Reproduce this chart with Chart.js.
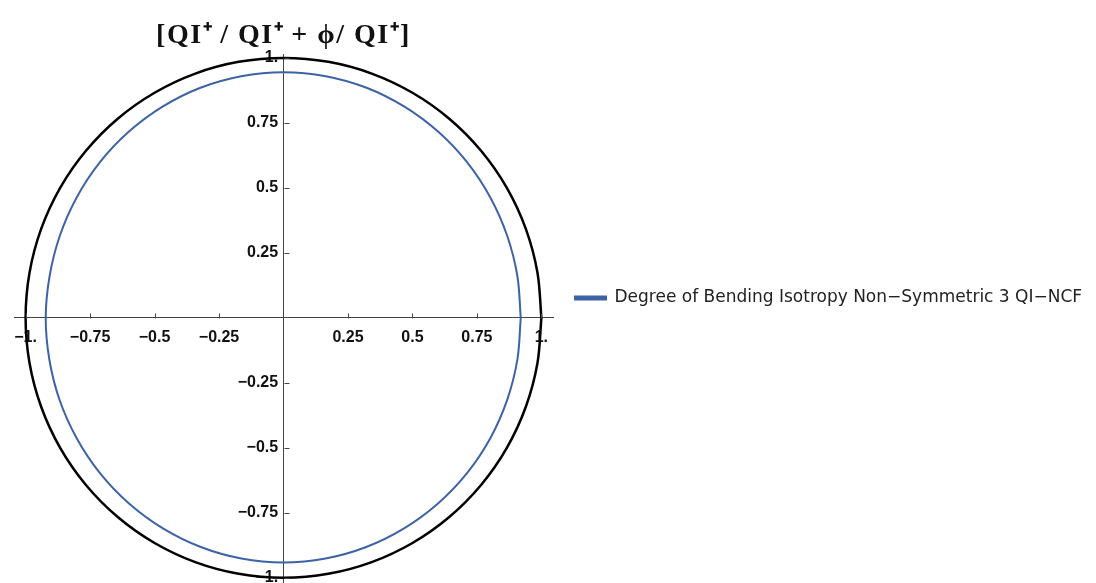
<!DOCTYPE html>
<html>
<head>
<meta charset="utf-8">
<script src="https://cdn.jsdelivr.net/npm/chart.js@4.4.0/dist/chart.umd.min.js"></script>
<style>
  html, body { margin: 0; padding: 0; background: #fff; overflow: hidden; }
  #wrap { width: 1096px; height: 583px; }
</style>
</head>
<body>
<div id="wrap"><canvas id="polarChart"></canvas></div>
<script>
// polar angles in degrees, radii
var angles = [0, 10, 20, 30, 40, 50, 60, 70, 80, 90, 100, 110, 120, 130, 140, 150, 160, 170,
              180, 190, 200, 210, 220, 230, 240, 250, 260, 270, 280, 290, 300, 310, 320, 330, 340, 350, 360];
var bendingRadii = [0.920, 0.921, 0.923, 0.926, 0.930, 0.934, 0.938, 0.942, 0.944, 0.945,
                    0.944, 0.942, 0.938, 0.934, 0.930, 0.926, 0.923, 0.921,
                    0.922, 0.922, 0.924, 0.926, 0.929, 0.932, 0.935, 0.938, 0.940, 0.941,
                    0.940, 0.938, 0.935, 0.932, 0.929, 0.926, 0.923, 0.921, 0.920];
var frameRadius = 1;

var xTicks = [-1, -0.75, -0.5, -0.25, 0.25, 0.5, 0.75, 1];
var xTickLabels = ['\u22121.', '\u22120.75', '\u22120.5', '\u22120.25', '0.25', '0.5', '0.75', '1.'];
var yTicks = [-1, -0.75, -0.5, -0.25, 0.25, 0.5, 0.75, 1];
var yTickLabels = ['\u22121.', '\u22120.75', '\u22120.5', '\u22120.25', '0.25', '0.5', '0.75', '1.'];

var titleText = '[QI\u207A\u2009/ QI\u207A\u2009+ \u03D5/ QI\u207A]';
var seriesLabel = 'Degree of Bending Isotropy Non\u2212Symmetric 3 QI\u2212NCF';

// polar -> cartesian
function toPoints(radii) {
    return angles.map(function(a, i) {
        var r = Array.isArray(radii) ? radii[i] : radii;
        var t = a * Math.PI / 180;
        return { x: r * Math.cos(t), y: r * Math.sin(t) };
    });
}

function labelFor(ticks, labels, suffix) {
    return function(value) {
        var i = ticks.indexOf(Math.round(value * 100) / 100);
        return i >= 0 ? labels[i] + (suffix || '') : '';
    };
}

// center axes shouldn't eat into the plot area
function noSpace(s) {
    if (s.isHorizontal()) s.height = 0; else s.width = 0;
    s.paddingLeft = s.paddingRight = s.paddingTop = s.paddingBottom = 0;
}

// legend gets the whole right side (Chart.js caps it at a quarter otherwise),
// title gets a bit of letter spacing
var LEGEND_WIDTH = 543;
var boxTweaks = {
    id: 'boxTweaks',
    beforeLayout: function(chart) {
        var lg = chart.legend;
        if (lg && !lg._wide) {
            var fit = lg.fit;
            lg.fit = function() {
                fit.call(this);
                this.width = LEGEND_WIDTH;
            };
            lg._wide = true;
        }
        var tb = chart.titleBlock;
        if (tb && !tb._spaced) {
            var draw = tb.draw;
            tb.draw = function() {
                var c = this.ctx;
                var old = c.letterSpacing;
                c.letterSpacing = '1.5px';
                draw.call(this);
                c.letterSpacing = old || '0px';
            };
            tb._spaced = true;
        }
    }
};

// little inward tick marks like Mathematica
var tickMarks = {
    id: 'tickMarks',
    afterDatasetsDraw: function(chart) {
        var ctx = chart.ctx;
        var xs = chart.scales.x, ys = chart.scales.y;
        var x0 = Math.round(xs.getPixelForValue(0)) + 0.5;
        var y0 = Math.round(ys.getPixelForValue(0)) + 0.5;
        ctx.save();
        ctx.strokeStyle = '#444';
        ctx.lineWidth = 1;
        ctx.beginPath();
        xTicks.forEach(function(v) {
            var px = Math.round(xs.getPixelForValue(v)) + 0.5;
            ctx.moveTo(px, y0);
            ctx.lineTo(px, y0 - 5);
        });
        yTicks.forEach(function(v) {
            var py = Math.round(ys.getPixelForValue(v)) + 0.5;
            ctx.moveTo(x0, py);
            ctx.lineTo(x0 + 5, py);
        });
        ctx.stroke();
        ctx.restore();
    }
};

var ctx = document.getElementById('polarChart').getContext('2d');
new Chart(ctx, {
    type: 'scatter',
    data: {
        datasets: [
            {
                label: seriesLabel,
                data: toPoints(bendingRadii),
                showLine: true,
                borderColor: '#3d63a6',
                backgroundColor: '#3d63a6',
                borderWidth: 2,
                pointRadius: 0,
                tension: 0.33,
                fill: false
            },
            {
                label: 'frame',
                data: toPoints(frameRadius),
                showLine: true,
                borderColor: '#000',
                borderWidth: 2.5,
                pointRadius: 0,
                tension: 0.33,
                fill: false
            }
        ]
    },
    options: {
        responsive: true,
        maintainAspectRatio: false,
        animation: false,
        layout: { padding: { left: 14, top: 13, right: 0, bottom: 0 } },
        scales: {
            x: {
                type: 'linear',
                position: { y: 0 },
                min: -1.045,
                max: 1.045,
                afterFit: noSpace,
                afterBuildTicks: function(s) { s.ticks = xTicks.map(function(v) { return { value: v }; }); },
                grid: { display: false },
                border: { display: true, color: '#444', width: 1 },
                ticks: {
                    padding: 2,
                    color: '#111',
                    font: { family: 'Liberation Sans', size: 16, weight: 'bold' },
                    callback: labelFor(xTicks, xTickLabels)
                }
            },
            y: {
                type: 'linear',
                position: { x: 0 },
                min: -1.02,
                max: 1.015,
                afterFit: noSpace,
                afterBuildTicks: function(s) { s.ticks = yTicks.map(function(v) { return { value: v }; }); },
                grid: { display: false },
                border: { display: true, color: '#444', width: 1 },
                ticks: {
                    color: '#111',
                    font: { family: 'Liberation Sans', size: 16, weight: 'bold' },
                    callback: labelFor(yTicks, yTickLabels, '\u2004')
                }
            }
        },
        plugins: {
            title: {
                display: true,
                text: titleText,
                fullSize: false,
                color: '#111',
                font: { family: 'Liberation Serif', size: 28, weight: 'bold', lineHeight: 1.2 },
                padding: { top: 6, bottom: 1.4 }
            },
            legend: {
                position: 'right',
                labels: {
                    boxWidth: 31,
                    boxHeight: 3,
                    padding: 22,
                    color: '#222',
                    font: { family: 'DejaVu Sans', size: 17 },
                    filter: function(item) { return item.datasetIndex === 0; }
                }
            },
            tooltip: { enabled: false }
        }
    },
    plugins: [boxTweaks, tickMarks]
});
</script>
</body>
</html>
